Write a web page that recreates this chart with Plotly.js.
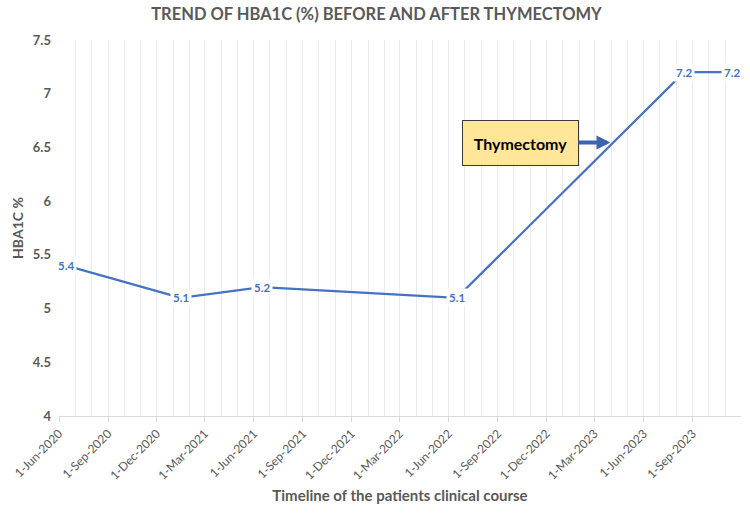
<!DOCTYPE html>
<html>
<head>
<meta charset="utf-8">
<script src="https://cdn.plot.ly/plotly-3.0.1.min.js"></script>
<style>html,body{margin:0;padding:0;background:#fff;}#chart{width:750px;height:517px;}</style>
</head>
<body>
<div id="chart"></div>
<script>
// Data
const visitDates = ['2020-06-15', '2021-01-15', '2021-06-16', '2022-06-16', '2023-08-16', '2023-11-13'];
const hba1cValues = [5.4, 5.1, 5.2, 5.1, 7.2, 7.2];
const tickDates = ['2020-06-01', '2020-09-01', '2020-12-01', '2021-03-01', '2021-06-01', '2021-09-01',
  '2021-12-01', '2022-03-01', '2022-06-01', '2022-09-01', '2022-12-01', '2023-03-01', '2023-06-01', '2023-09-01'];
const tickLabels = ['1-Jun-2020', '1-Sep-2020', '1-Dec-2020', '1-Mar-2021', '1-Jun-2021', '1-Sep-2021',
  '1-Dec-2021', '1-Mar-2022', '1-Jun-2022', '1-Sep-2022', '1-Dec-2022', '1-Mar-2023', '1-Jun-2023', '1-Sep-2023'];
const eventLabel = 'Thymectomy';
const eventDate = '2023-03-31';
const eventValue = 6.545;

const FONT = 'Lato, "Open Sans", sans-serif';
const GREY = '#595959';
const BLUE = '#4472C4';

const trace = {
  x: visitDates,
  y: hba1cValues,
  type: 'scatter',
  mode: 'lines',
  line: {color: BLUE, width: 2.25},
  hoverinfo: 'x+y'
};

const labelAnns = visitDates.map((d, i) => ({
  x: d, y: hba1cValues[i], xref: 'x', yref: 'y',
  text: '<b>' + hba1cValues[i].toFixed(1) + '</b>',
  showarrow: false,
  bgcolor: '#ffffff',
  borderpad: 2,
  font: {family: FONT, size: 11.5, color: BLUE}
}));

const eventAnn = {
  x: eventDate, y: eventValue, xref: 'x', yref: 'y',
  text: '<b>' + eventLabel + '</b>',
  showarrow: true,
  ax: -90, ay: 0,
  axref: 'pixel', ayref: 'pixel',
  arrowcolor: '#3B64AE',
  arrowwidth: 4,
  arrowhead: 2,
  arrowsize: 0.7,
  bgcolor: '#FFE699',
  bordercolor: '#3a3a3a',
  borderwidth: 1,
  width: 113,
  height: 42,
  font: {family: FONT, size: 16, color: '#000000'}
};

const layout = {
  width: 750,
  height: 517,
  margin: {l: 59, r: 9, t: 40, b: 101},
  paper_bgcolor: '#ffffff',
  plot_bgcolor: '#ffffff',
  showlegend: false,
  font: {family: FONT, color: GREY},
  title: {
    text: '<b>TREND OF HBA1C (%) BEFORE AND AFTER THYMECTOMY</b>',
    x: 0.502, xanchor: 'center',
    y: 0.972, yanchor: 'middle',
    font: {family: FONT, size: 16.5, color: GREY}
  },
  xaxis: {
    type: 'date',
    range: ['2020-06-01', '2023-11-30 12:00'],
    tickmode: 'array',
    tickvals: tickDates,
    ticktext: tickLabels,
    tickangle: -45,
    ticks: 'outside',
    ticklen: 5,
    tickcolor: '#d9d9d9',
    tickfont: {family: FONT, size: 12, color: GREY},
    showgrid: true,
    gridcolor: '#ececec',
    gridwidth: 1,
    minor: {dtick: 'M1', tick0: '2020-06-01', showgrid: true, gridcolor: '#ececec', gridwidth: 1},
    showline: true,
    linecolor: '#d9d9d9',
    linewidth: 1,
    zeroline: false,
    title: {
      text: '<b>Timeline of the patients clinical course</b>',
      font: {family: FONT, size: 15, color: GREY},
      standoff: 8
    }
  },
  yaxis: {
    range: [4, 7.5],
    dtick: 0.5,
    tick0: 4,
    showgrid: false,
    zeroline: false,
    showline: false,
    ticks: '',
    ticklabelstandoff: 7,
    tickfont: {family: FONT, size: 13, color: GREY, weight: 'bold'},
    title: {
      text: '<b>HBA1C %</b>',
      font: {family: FONT, size: 14, color: GREY},
      standoff: 5
    }
  },
  annotations: labelAnns.concat([eventAnn])
};

Plotly.newPlot('chart', [trace], layout, {displayModeBar: false, staticPlot: true});
</script>
</body>
</html>
